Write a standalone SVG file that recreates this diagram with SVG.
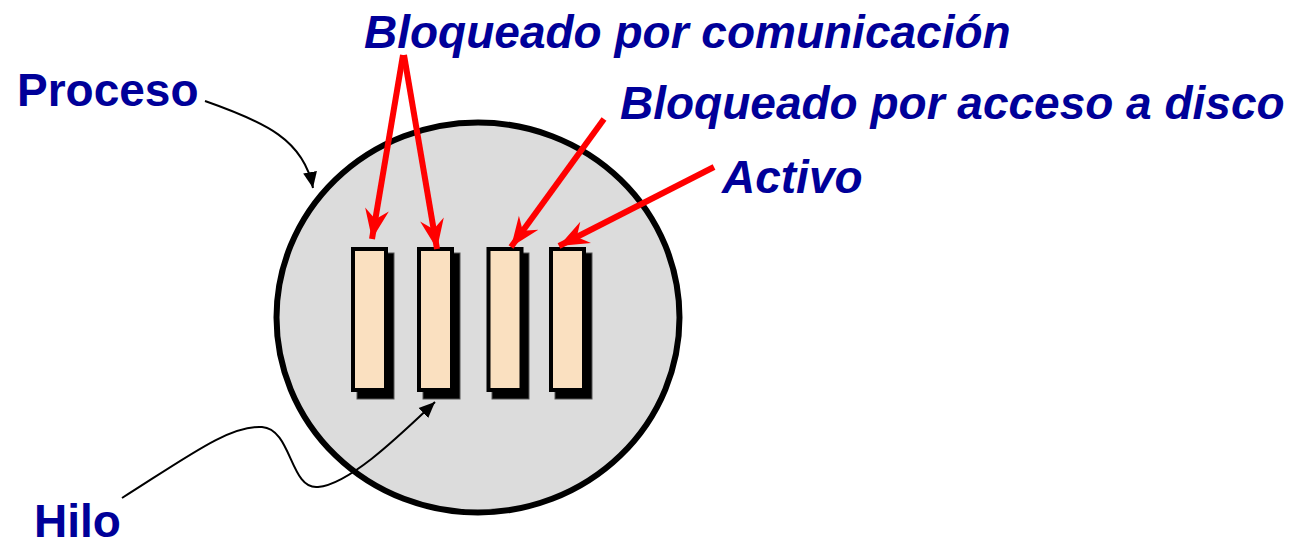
<svg xmlns="http://www.w3.org/2000/svg" width="1290" height="545" viewBox="0 0 1290 545">
<style>
.lbl{font-family:"Liberation Sans",Arial,sans-serif;font-weight:bold;font-size:46px;fill:#000099}
.it{font-style:italic}
.thread{fill:#fae0c0;stroke:#000;stroke-width:4}
.shadow{fill:#000;stroke:#555;stroke-width:1}
.red{fill:none;stroke:#ff0000;stroke-width:6;marker-end:url(#redhead)}
.blk{fill:none;stroke:#000;stroke-width:2;marker-end:url(#blkhead)}
</style>
<defs>
<marker id="redhead" markerUnits="userSpaceOnUse" viewBox="-30 -13 32 26" refX="0" refY="0" markerWidth="32" markerHeight="26" orient="auto">
<path d="M0,0 L-30,-12 L-20,0 L-30,12 Z" fill="#ff0000"/>
</marker>
<marker id="blkhead" markerUnits="userSpaceOnUse" viewBox="-16 -8 17 16" refX="0" refY="0" markerWidth="17" markerHeight="16" orient="auto">
<path d="M0,0 L-16,-7 L-16,7 Z" fill="#000"/>
</marker>
</defs>
<rect width="1290" height="545" fill="#fff"/>
<g id="proceso-circle">
<ellipse cx="478" cy="317.5" rx="201.5" ry="195" fill="#dcdcdc" stroke="#000" stroke-width="6"/>
</g>
<g id="hilo1">
<rect class="shadow" x="357" y="253" width="37" height="146"/>
<rect class="thread" x="353" y="249" width="33" height="141"/>
</g>
<g id="hilo2">
<rect class="shadow" x="423" y="253" width="37" height="146"/>
<rect class="thread" x="419" y="249" width="33" height="141"/>
</g>
<g id="hilo3">
<rect class="shadow" x="492" y="253" width="37" height="146"/>
<rect class="thread" x="488.5" y="249" width="33" height="141"/>
</g>
<g id="hilo4">
<rect class="shadow" x="555" y="253" width="37" height="146"/>
<rect class="thread" x="551" y="249" width="33" height="141"/>
</g>
<g id="connectors">
<path class="red" d="M403,55 L372,239"/>
<path class="red" d="M404,55 L437,249"/>
<path class="red" d="M604,119 L511,247"/>
<path class="red" d="M714,167 L559,246"/>
<path class="blk" d="M205,101 C265,122 304,140 313,188"/>
<path class="blk" d="M122,498 C190,455 230,425 262,427 C292,429 290,490 318,487 C350,484 400,435 435,402"/>
</g>
<g id="label-comunicacion"><text class="lbl it" x="364" y="48">Bloqueado por comunicación</text></g>
<g id="label-disco"><text class="lbl it" x="620" y="119">Bloqueado por acceso a disco</text></g>
<g id="label-activo"><text class="lbl it" x="722" y="193">Activo</text></g>
<g id="label-proceso"><text class="lbl" x="17" y="106">Proceso</text></g>
<g id="label-hilo"><text class="lbl" x="34" y="537">Hilo</text></g>
</svg>
